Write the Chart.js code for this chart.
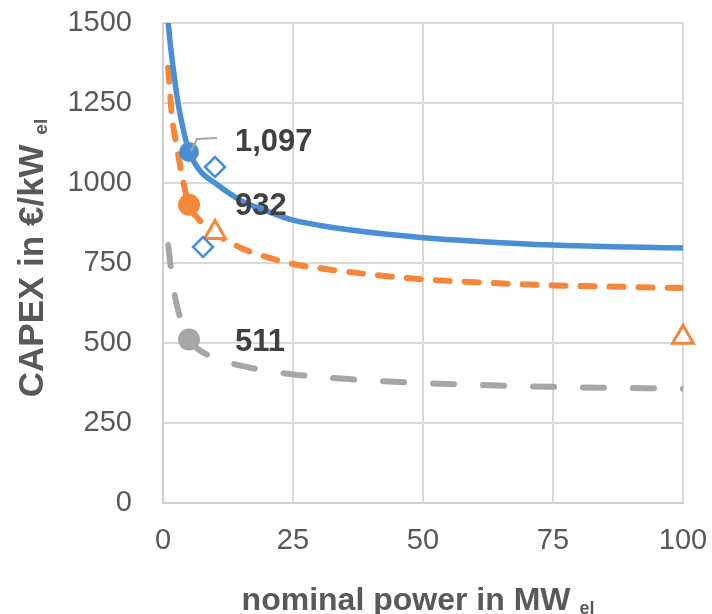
<!DOCTYPE html>
<html>
<head>
<meta charset="utf-8">
<script src="https://cdn.jsdelivr.net/npm/chart.js@4.4.1/dist/chart.umd.min.js"></script>
<style>
  html, body { margin: 0; padding: 0; background: #ffffff; }
  #wrap { width: 712px; height: 614px; }
</style>
</head>
<body>
<div id="wrap"><canvas id="capex" width="712" height="614"></canvas></div>
<script>
// Specific CAPEX curves over nominal plant power (MW el)
const powerBlue   = [1, 1.5, 2.3, 3, 4, 5, 7, 10, 15, 20, 25, 30, 40, 50, 60, 75, 90, 100];
const capexBlue   = [1500, 1420, 1316, 1240, 1160, 1100, 1040, 1000, 945, 912, 884, 868, 845, 829, 818, 806, 800, 797];

const powerOrange = [1, 1.7, 2.7, 3.7, 5, 7, 10, 15, 20, 25, 30, 40, 50, 60, 75, 90, 100];
const capexOrange = [1360, 1212, 1109, 1020, 932, 885, 843, 797, 768, 747, 734, 714, 699, 690, 680, 675, 672];

const powerGray   = [1, 1.4, 1.8, 2.5, 3.6, 5, 8, 12, 17, 25, 35, 50, 75, 100];
const capexGray   = [806, 750, 700, 630, 565, 511, 468, 442, 422, 402, 388, 375, 363, 357];

// Reference plants at 5 MW (labelled)
const refPower  = 5;
const refBlue   = 1097;
const refOrange = 932;
const refGray   = 511;

// Literature data points
const diamondPower = [10, 7.7];
const diamondCapex = [1050, 800];
const trianglePower = [10, 100];
const triangleCapex = [845, 518];

// Axis ticks
const xTicks = [0, 25, 50, 75, 100];
const yTicks = [0, 250, 500, 750, 1000, 1250, 1500];

const BLUE = '#4a8fd6';
const ORANGE = '#f5873a';
const GRAY = '#a6a6a6';
const FONT = '"Liberation Sans", Arial, sans-serif';

const xy = (xs, ys) => xs.map((x, i) => ({ x: x, y: ys[i] }));

// Value labels next to the 5 MW reference points, plus axis titles with subscripts
const annotate = {
  id: 'annotate',
  afterDatasetsDraw(chart) {
    const ctx = chart.ctx;
    const labelled = [
      { idx: 0, value: refBlue, dy: -10, leader: true },
      { idx: 1, value: refOrange, dy: 2, leader: false },
      { idx: 2, value: refGray, dy: 3, leader: false }
    ];
    ctx.save();
    labelled.forEach(l => {
      const pt = chart.getDatasetMeta(l.idx).data[0];
      if (l.leader) {
        ctx.strokeStyle = '#a6a6a6';
        ctx.lineWidth = 2;
        ctx.beginPath();
        ctx.moveTo(pt.x + 2, pt.y - 1);
        ctx.lineTo(pt.x + 8, pt.y - 13);
        ctx.lineTo(pt.x + 28, pt.y - 14);
        ctx.stroke();
      }
      ctx.fillStyle = '#404040';
      ctx.font = 'bold 31px ' + FONT;
      ctx.textAlign = 'left';
      ctx.textBaseline = 'middle';
      ctx.fillText(l.value.toLocaleString('en-US'), pt.x + 46, pt.y + l.dy);
    });
    ctx.restore();
  },
  afterDraw(chart) {
    const ctx = chart.ctx;
    const area = chart.chartArea;
    const drawTitle = (main, sub, size, subSize) => {
      const mainFont = 'bold ' + size + 'px ' + FONT;
      const subFont = 'bold ' + subSize + 'px ' + FONT;
      ctx.font = mainFont;
      const w1 = ctx.measureText(main).width;
      ctx.font = subFont;
      const w2 = ctx.measureText(sub).width;
      const total = w1 + w2;
      ctx.textAlign = 'left';
      ctx.textBaseline = 'alphabetic';
      ctx.font = mainFont;
      ctx.fillText(main, -total / 2, size * 0.36);
      ctx.font = subFont;
      ctx.fillText(sub, -total / 2 + w1, size * 0.36 + 4);
    };
    ctx.save();
    ctx.fillStyle = '#595959';
    // x axis title
    ctx.save();
    ctx.translate((area.left + area.right) / 2 - 5, 598);
    drawTitle('nominal power in MW ', 'el', 32, 18);
    ctx.restore();
    // y axis title
    ctx.save();
    ctx.translate(30, 258);
    ctx.rotate(-Math.PI / 2);
    drawTitle('CAPEX in €/kW ', 'el', 35, 19);
    ctx.restore();
    ctx.restore();
  }
};

// Drop the automatic label-overhang padding so the plot area follows layout.padding
const noOverhang = s => { s.paddingTop = 0; s.paddingBottom = 0; s.paddingLeft = 0; s.paddingRight = 0; };

new Chart(document.getElementById('capex'), {
  type: 'scatter',
  data: {
    datasets: [
      { data: [{ x: refPower, y: refBlue }], pointRadius: 10, pointBackgroundColor: BLUE, pointBorderWidth: 0, showLine: false, clip: false },
      { data: [{ x: refPower, y: refOrange }], pointRadius: 11, pointBackgroundColor: ORANGE, pointBorderWidth: 0, showLine: false, clip: false },
      { data: [{ x: refPower, y: refGray }], pointRadius: 11, pointBackgroundColor: GRAY, pointBorderWidth: 0, showLine: false, clip: false },
      { data: xy(diamondPower, diamondCapex), pointStyle: 'rectRot', pointRadius: 10, pointBorderWidth: 2.5,
        pointBorderColor: BLUE, pointBackgroundColor: '#ffffff', showLine: false, clip: false },
      { data: xy(trianglePower, triangleCapex), pointStyle: 'triangle', pointRadius: 12, pointBorderWidth: 3,
        pointBorderColor: ORANGE, pointBackgroundColor: '#ffffff', showLine: false, clip: false },
      { data: xy(powerBlue, capexBlue), showLine: true, borderColor: BLUE, borderWidth: 5.5,
        pointRadius: 0, cubicInterpolationMode: 'monotone', borderCapStyle: 'round' },
      { data: xy(powerOrange, capexOrange), showLine: true, borderColor: ORANGE, borderWidth: 6,
        borderDash: [14, 15], borderCapStyle: 'round', pointRadius: 0, cubicInterpolationMode: 'monotone' },
      { data: xy(powerGray, capexGray), showLine: true, borderColor: GRAY, borderWidth: 6,
        borderDash: [21, 29], borderCapStyle: 'round', pointRadius: 0, cubicInterpolationMode: 'monotone' }
    ]
  },
  options: {
    responsive: false,
    devicePixelRatio: 1,
    animation: false,
    layout: { padding: { left: 0, right: 29, top: 23, bottom: 0 } },
    plugins: { legend: { display: false }, tooltip: { enabled: false } },
    scales: {
      x: {
        type: 'linear', min: 0, max: 100,
        afterBuildTicks: s => { s.ticks = xTicks.map(v => ({ value: v })); },
        afterFit: s => { s.height = 111; noOverhang(s); },
        ticks: { color: '#595959', font: { size: 29, family: FONT }, padding: 21,
                 maxRotation: 0, callback: v => String(v) },
        grid: { color: '#d9d9d9', lineWidth: 2, drawTicks: false },
        border: { color: '#d0d0d0', width: 2 }
      },
      y: {
        type: 'linear', min: 0, max: 1500,
        afterBuildTicks: s => { s.ticks = yTicks.map(v => ({ value: v })); },
        afterFit: s => { s.width = 163; noOverhang(s); },
        ticks: { color: '#595959', font: { size: 29, family: FONT }, padding: 31,
                 callback: v => String(v) },
        grid: { color: '#d9d9d9', lineWidth: 2, drawTicks: false },
        border: { color: '#d0d0d0', width: 2 }
      }
    }
  },
  plugins: [annotate]
});
</script>
</body>
</html>
